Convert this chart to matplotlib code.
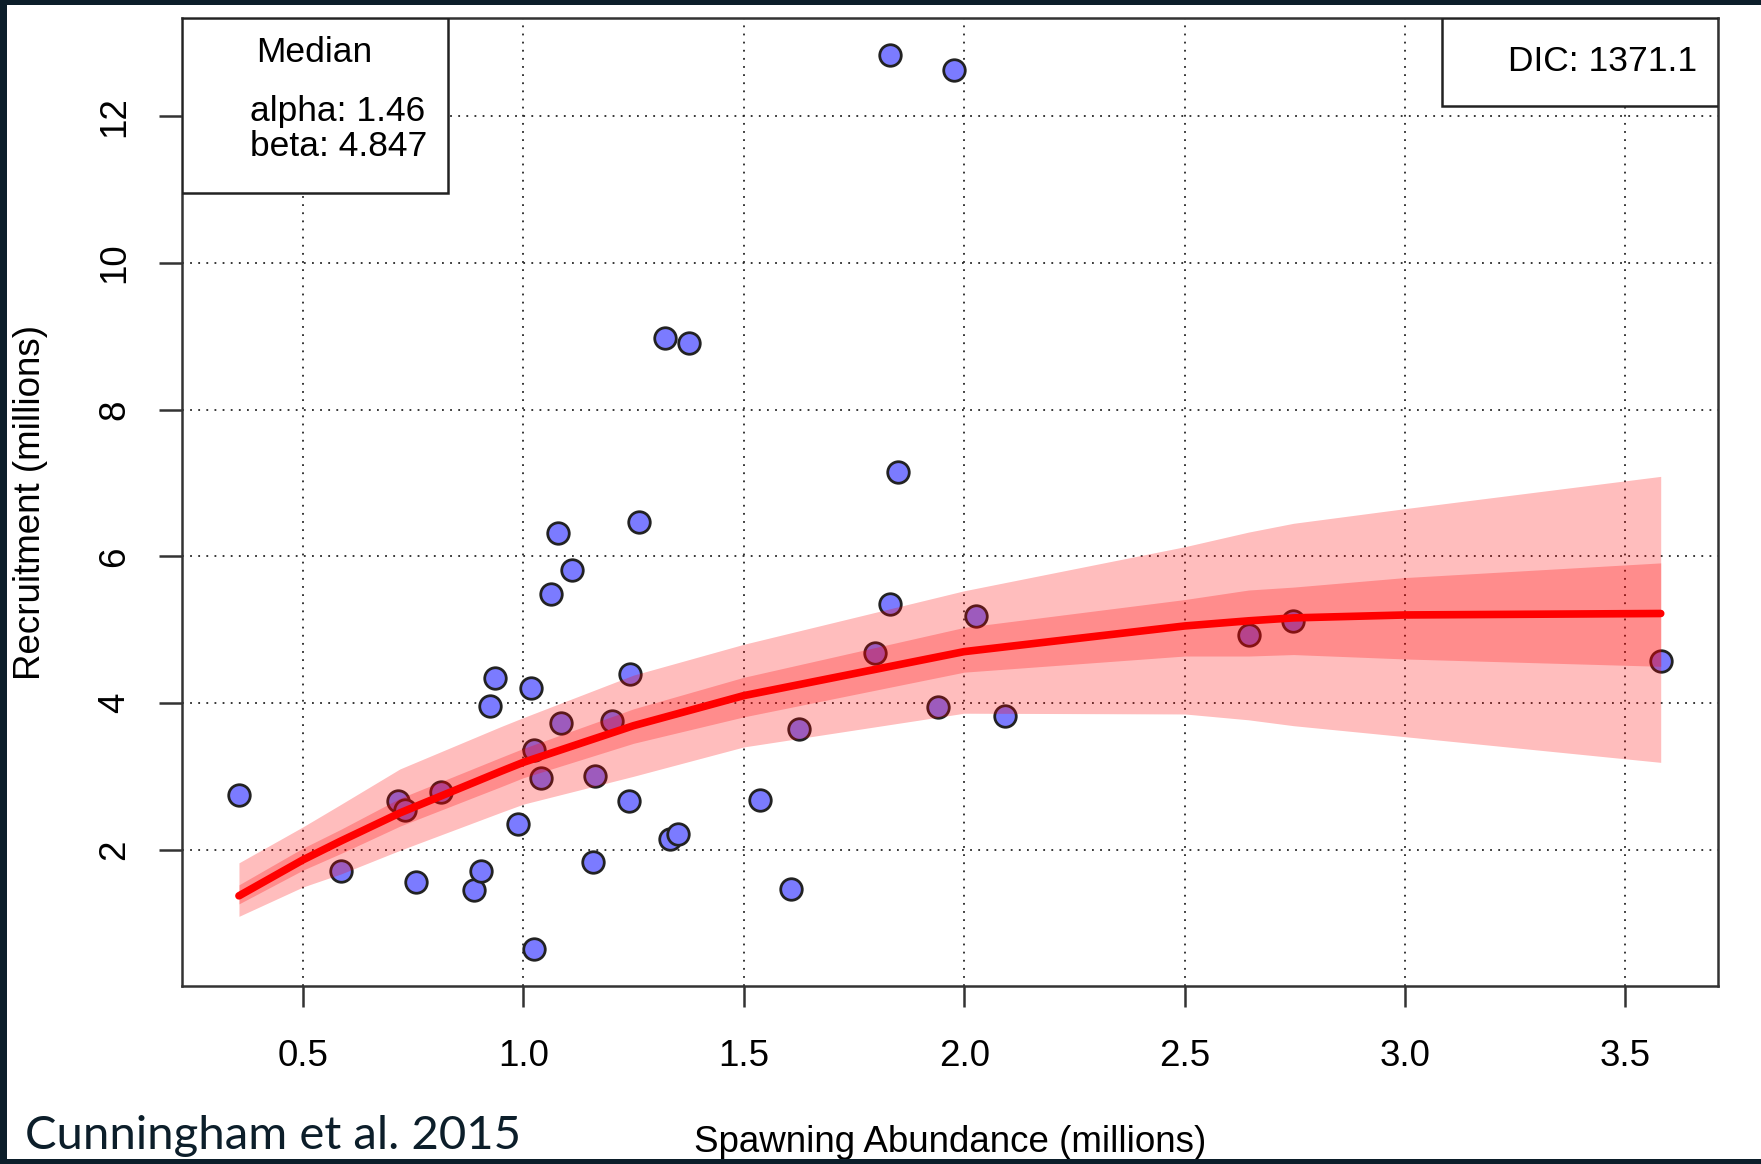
import matplotlib
matplotlib.use('Agg')
import matplotlib.pyplot as plt
from matplotlib.patches import Rectangle

plt.rcParams['font.family'] = ['Liberation Sans', 'DejaVu Sans']

# observed stock / recruitment pairs (millions)
spawn = [0.355, 0.587, 0.716, 0.732, 0.757, 0.813, 0.889, 0.905, 0.925, 0.935,
         0.989, 1.017, 1.024, 1.024, 1.040, 1.062, 1.078, 1.085, 1.111, 1.157,
         1.162, 1.202, 1.240, 1.243, 1.263, 1.322, 1.332, 1.350, 1.375, 1.536,
         1.607, 1.625, 1.798, 1.831, 1.831, 1.849, 1.940, 1.978, 2.027, 2.093,
         2.645, 2.747, 3.581]
recruit = [2.75, 1.71, 2.66, 2.54, 1.56, 2.78, 1.45, 1.71, 3.96, 4.34,
           2.35, 4.20, 0.64, 3.36, 2.98, 5.48, 6.32, 3.72, 5.81, 1.83,
           3.01, 3.76, 2.66, 4.39, 6.47, 8.98, 2.14, 2.21, 8.91, 2.67,
           1.46, 3.65, 4.68, 5.35, 12.84, 7.15, 3.94, 12.63, 5.19, 3.82,
           4.92, 5.12, 4.57]

# fitted curve and credible bands
curve_x = [0.355, 0.5, 0.587, 0.72, 0.95, 1.0, 1.25, 1.5, 2.0, 2.5, 2.645, 2.747, 3.0, 3.58]
median = [1.37, 1.86, 2.12, 2.50, 3.07, 3.19, 3.69, 4.10, 4.70, 5.05, 5.12, 5.16, 5.20, 5.22]
outer_hi = [1.82, 2.31, 2.62, 3.10, 3.68, 3.80, 4.38, 4.80, 5.53, 6.13, 6.33, 6.45, 6.65, 7.09]
outer_lo = [1.09, 1.49, 1.67, 1.99, 2.51, 2.62, 3.00, 3.40, 3.86, 3.85, 3.77, 3.69, 3.54, 3.19]
inner_hi = [1.52, 2.02, 2.28, 2.70, 3.26, 3.38, 3.92, 4.35, 5.03, 5.41, 5.54, 5.58, 5.71, 5.91]
inner_lo = [1.26, 1.72, 1.95, 2.32, 2.86, 2.98, 3.45, 3.81, 4.42, 4.64, 4.64, 4.66, 4.60, 4.50]

xticks = [0.5, 1.0, 1.5, 2.0, 2.5, 3.0, 3.5]
yticks = [2, 4, 6, 8, 10, 12]

fig = plt.figure(figsize=(17.61, 11.64), dpi=100)
fig.patch.set_facecolor('white')
ax = fig.add_axes([0.1034, 0.1529, 0.8722, 0.8316])

# dotted grid
for xv in xticks:
    ax.axvline(xv, color='0.15', lw=1.3, ls=(0, (1, 3.5)), zorder=1)
for yv in yticks:
    ax.axhline(yv, color='0.15', lw=1.3, ls=(0, (1, 3.5)), zorder=1)

ax.plot(spawn, recruit, 'o', ms=15.5, mfc='#7b7bff', mec='#222222', mew=2.0, zorder=2)

ax.fill_between(curve_x, outer_lo, outer_hi, color='red', alpha=0.26, lw=0, zorder=3)
ax.fill_between(curve_x, inner_lo, inner_hi, color='red', alpha=0.26, lw=0, zorder=4)
ax.plot(curve_x, median, color='red', lw=5.5, solid_capstyle='round', zorder=5)

ax.set_xlim(0.226, 3.710)
ax.set_ylim(0.14, 13.34)
ax.set_xticks(xticks)
ax.set_xticklabels(['%.1f' % v for v in xticks])
ax.set_yticks(yticks)
ax.tick_params(axis='x', direction='out', length=15, width=1.8, color='#333333',
               labelsize=26.5, pad=23)
ax.tick_params(axis='y', direction='out', length=16.5, width=1.8, color='#333333',
               labelsize=26.5, pad=19.5)
plt.setp(ax.get_yticklabels(), rotation=90, va='center')
for sp in ax.spines.values():
    sp.set_linewidth(1.8)
    sp.set_color('#333333')

ax.set_xlabel('Spawning Abundance (millions)', fontsize=26.5)
ax.xaxis.set_label_coords(0.5, -0.144)
ax.set_ylabel('Recruitment (millions)', fontsize=26.5)
ax.yaxis.set_label_coords(-0.087, 0.5)

# legend boxes
ax.add_patch(Rectangle((0, 0.8195), 0.173, 0.1805, transform=ax.transAxes,
                       facecolor='white', edgecolor='#222222', lw=1.8, zorder=6))
ax.text(0.0862, 0.964, 'Median', transform=ax.transAxes, ha='center', va='center',
        fontsize=25.5, zorder=7)
ax.text(0.0439, 0.9032, 'alpha: 1.46', transform=ax.transAxes, ha='left', va='center',
        fontsize=25.5, zorder=7)
ax.text(0.0439, 0.867, 'beta: 4.847', transform=ax.transAxes, ha='left', va='center',
        fontsize=25.5, zorder=7)

ax.add_patch(Rectangle((0.8201, 0.9091), 0.1799, 0.0909, transform=ax.transAxes,
                       facecolor='white', edgecolor='#222222', lw=1.8, zorder=6))
ax.text(0.9865, 0.9549, 'DIC: 1371.1', transform=ax.transAxes, ha='right', va='center',
        fontsize=25.5, zorder=7)

# slide frame and citation
navy = '#0c1e2a'
fig.patches.append(Rectangle((0, 0), 7 / 1761, 1, transform=fig.transFigure,
                             facecolor=navy, edgecolor='none'))
fig.patches.append(Rectangle((0, 1 - 5 / 1164), 1, 5 / 1164, transform=fig.transFigure,
                             facecolor=navy, edgecolor='none'))
fig.patches.append(Rectangle((0, 0), 1, 5 / 1164, transform=fig.transFigure,
                             facecolor=navy, edgecolor='none'))
fig.text(25 / 1761, 15 / 1164, 'Cunningham et al. 2015', fontsize=34, color=navy,
         family=['Lato', 'DejaVu Sans'], ha='left', va='baseline')

fig.savefig('out.png', dpi=100)
